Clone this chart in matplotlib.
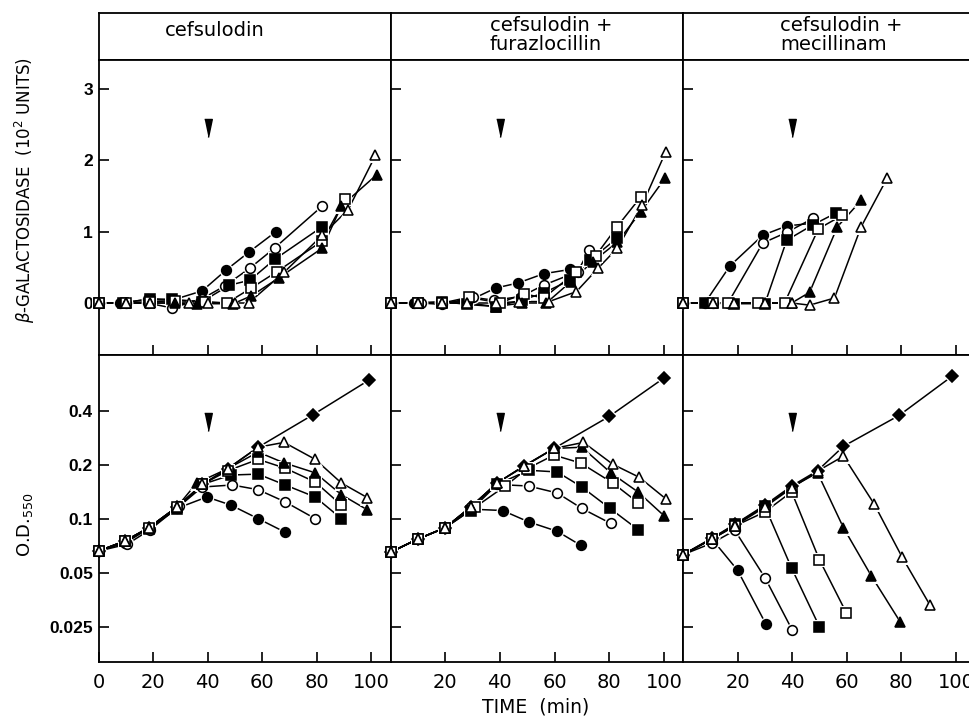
import matplotlib
matplotlib.use("Agg")
import matplotlib.pyplot as plt
from matplotlib.ticker import NullLocator

# ------------------------------------------------------------------
# data: time (min) and value per symbol
# ------------------------------------------------------------------
panel_titles = ["cefsulodin", "cefsulodin +\nfurazlocillin", "cefsulodin +\nmecillinam"]

time_ticks = [20, 40, 60, 80, 100]
gal_ticks = [0, 1, 2, 3]
od_ticks = [0.025, 0.05, 0.1, 0.2, 0.4]
od_tick_labels = ["0.025", "0.05", "0.1", "0.2", "0.4"]
arrow_time = 40

# beta-galactosidase (10^2 units), cefsulodin alone
gal_cef = {
    'fcircle': ([0, 8, 18, 27, 38, 46.7, 55, 65],
                [0, 0, 0.05, 0.04, 0.17, 0.46, 0.71, 1.0]),
    'ocircle': ([0, 10, 18, 27, 38, 46.3, 55.5, 64.5, 82],
                [0, 0, 0, -0.07, 0.06, 0.24, 0.49, 0.77, 1.36]),
    'fsquare': ([0, 9, 19, 27, 38, 48, 55.5, 64.5, 82],
                [0, 0, 0.06, 0.05, 0.02, 0.25, 0.32, 0.61, 1.07]),
    'osquare': ([0, 10, 19, 28, 39, 47, 56, 65.4, 82, 90.4],
                [0, 0, 0.02, 0.03, 0.02, 0.0, 0.21, 0.44, 0.87, 1.46]),
    'ftri': ([0, 10, 19, 28, 36, 49.4, 56, 66, 82, 89, 102],
             [0, 0, 0, 0, -0.01, -0.01, 0.1, 0.35, 0.77, 1.36, 1.8]),
    'otri': ([0, 10, 19, 33, 40, 50, 55, 68, 82, 91.5, 101.5],
             [0, 0, 0, 0, 0, 0, 0, 0.43, 0.95, 1.31, 2.07]),
}

# O.D.550, cefsulodin alone
od_cef = {
    'diamond': ([0, 9.6, 18.4, 28.7, 38, 47.4, 58.5, 78.7, 99],
                [0.066, 0.075, 0.089, 0.116, 0.155, 0.19, 0.25, 0.38, 0.59]),
    'fcircle': ([0, 9.6, 18.4, 28.7, 39.7, 48.5, 58.5, 68.4],
                [0.066, 0.073, 0.088, 0.114, 0.132, 0.119, 0.100, 0.084]),
    'ocircle': ([0, 10.5, 19, 29.5, 38, 49, 58.5, 68.4, 79.4],
                [0.066, 0.072, 0.087, 0.117, 0.150, 0.154, 0.145, 0.124, 0.100]),
    'fsquare': ([0, 9.6, 18.4, 28.7, 38, 48.5, 58.5, 68.4, 79.4, 89],
                [0.066, 0.075, 0.088, 0.113, 0.155, 0.175, 0.177, 0.154, 0.132, 0.100]),
    'osquare': ([0, 9.6, 18.4, 28.7, 38, 47.4, 58.5, 68.4, 79.4, 89],
                [0.066, 0.075, 0.089, 0.116, 0.155, 0.185, 0.214, 0.191, 0.160, 0.119]),
    'ftri': ([0, 9.6, 18.4, 28.7, 36, 47.4, 58.5, 67.8, 79.4, 89, 98.5],
             [0.066, 0.075, 0.089, 0.116, 0.158, 0.19, 0.235, 0.205, 0.18, 0.136, 0.112]),
    'otri': ([0, 9.6, 18.4, 28.7, 38, 47.4, 58.5, 68, 79.4, 89, 98.5],
             [0.066, 0.075, 0.089, 0.116, 0.155, 0.19, 0.25, 0.266, 0.214, 0.158, 0.131]),
}

# beta-galactosidase, cefsulodin + furazlocillin
gal_furaz = {
    'fcircle': ([0, 8.5, 18.3, 28, 38.5, 46.6, 56, 65.6],
                [0, 0, 0.01, 0.02, 0.21, 0.28, 0.41, 0.47]),
    'ocircle': ([0, 11, 19, 30, 37.7, 47.7, 56, 68.5, 72.6],
                [0, 0, -0.02, 0.08, 0.04, 0.09, 0.25, 0.44, 0.74]),
    'fsquare': ([0, 10, 19, 28, 38.5, 48, 56, 65.6, 73, 82.9],
                [0, 0, 0.02, -0.02, -0.05, 0.04, 0.14, 0.32, 0.6, 0.91]),
    'osquare': ([0, 10, 19, 28.6, 40, 48.8, 56, 68, 75, 82.9, 91.6],
                [0, 0, 0, 0.08, 0.0, 0.13, 0.07, 0.44, 0.66, 1.07, 1.49]),
    'ftri': ([0, 10, 19, 28, 38.5, 48, 57, 66, 74, 82.9, 91.6, 100.4],
             [0, 0, 0, 0, -0.05, 0.0, 0.0, 0.3, 0.58, 0.85, 1.28, 1.75]),
    'otri': ([0, 10, 19, 28, 38.5, 47, 58, 68, 76, 83, 92, 100.7],
             [0, 0, 0, 0, 0, 0.02, 0.02, 0.16, 0.49, 0.77, 1.37, 2.12]),
}

# O.D.550, cefsulodin + furazlocillin
od_furaz = {
    'diamond': ([0, 10, 20, 29.3, 39, 49, 59.8, 80, 100],
                [0.065, 0.077, 0.089, 0.116, 0.158, 0.196, 0.246, 0.371, 0.607]),
    'fcircle': ([0, 10, 20, 29.3, 41, 50.5, 61, 69.6],
                [0.065, 0.077, 0.089, 0.113, 0.111, 0.096, 0.085, 0.071]),
    'ocircle': ([0, 10, 20, 29.3, 39, 50.5, 61, 70, 80.6],
                [0.065, 0.077, 0.089, 0.116, 0.155, 0.152, 0.139, 0.114, 0.094]),
    'fsquare': ([0, 10, 20, 29.3, 39, 50.5, 61, 70, 80.3, 90.5],
                [0.065, 0.077, 0.089, 0.111, 0.155, 0.186, 0.182, 0.150, 0.114, 0.087]),
    'osquare': ([0, 10, 20, 31, 42, 50, 59.8, 69.6, 81.3, 90.5],
                [0.065, 0.077, 0.089, 0.116, 0.152, 0.19, 0.226, 0.204, 0.158, 0.123]),
    'ftri': ([0, 10, 20, 29.3, 39, 48.7, 59.8, 70, 80.6, 90.5, 100],
             [0.065, 0.077, 0.089, 0.116, 0.158, 0.196, 0.246, 0.25, 0.18, 0.141, 0.104]),
    'otri': ([0, 10, 20, 29.3, 39, 48.7, 59.8, 70.6, 81.3, 91, 100.7],
             [0.065, 0.077, 0.089, 0.116, 0.158, 0.196, 0.246, 0.266, 0.201, 0.170, 0.129]),
}

# beta-galactosidase, cefsulodin + mecillinam
gal_mec = {
    'fcircle': ([0, 8, 17.2, 29.2, 38, 47.8],
                [0, 0, 0.52, 0.95, 1.08, 1.12]),
    'ocircle': ([0, 10.9, 16.5, 29.2, 38, 47.8],
                [0, 0, 0, 0.84, 0.99, 1.19]),
    'fsquare': ([0, 8, 18.6, 30, 38, 47.8, 56],
                [0, 0, -0.01, -0.01, 0.88, 1.1, 1.26]),
    'osquare': ([0, 10.9, 16.5, 27.4, 37.2, 49.6, 58.4],
                [0, 0, 0, 0, 0, 1.04, 1.23]),
    'ftri': ([0, 10.9, 18.6, 30, 39.8, 46.4, 56.6, 65.3],
             [0, 0, 0, 0, 0, 0.15, 1.07, 1.44]),
    'otri': ([0, 10.9, 18.6, 30, 39.8, 46.4, 55.5, 65.3, 74.8],
             [0, 0, 0, 0, 0, -0.03, 0.07, 1.07, 1.75]),
}

# O.D.550, cefsulodin + mecillinam
od_mec = {
    'diamond': ([0, 10.6, 19, 30, 39.8, 49.3, 58.8, 79.2, 98.5],
                [0.063, 0.078, 0.093, 0.119, 0.152, 0.185, 0.253, 0.376, 0.62]),
    'fcircle': ([0, 10.6, 20, 30.3],
                [0.063, 0.077, 0.0516, 0.026]),
    'ocircle': ([0, 10.6, 19, 30, 40],
                [0.063, 0.073, 0.086, 0.047, 0.024]),
    'fsquare': ([0, 10.6, 19, 30, 39.8, 50],
                [0.063, 0.077, 0.093, 0.117, 0.053, 0.025]),
    'osquare': ([0, 10.6, 19, 30, 39.8, 50, 59.8],
                [0.063, 0.077, 0.091, 0.109, 0.141, 0.059, 0.030]),
    'ftri': ([0, 10.6, 19, 30, 39.8, 49.3, 58.8, 69, 79.6],
             [0.063, 0.077, 0.092, 0.117, 0.150, 0.180, 0.089, 0.048, 0.0266]),
    'otri': ([0, 10.6, 19, 30, 39.8, 49.3, 58.8, 70, 80.3, 90.5],
             [0.063, 0.077, 0.091, 0.116, 0.148, 0.184, 0.223, 0.121, 0.061, 0.033]),
}

gal_panels = [gal_cef, gal_furaz, gal_mec]
od_panels = [od_cef, od_furaz, od_mec]

# marker, filled, size
STYLE = {
    'diamond': ('D', True, 6.2),
    'fcircle': ('o', True, 7.0),
    'ocircle': ('o', False, 7.0),
    'fsquare': ('s', True, 6.5),
    'osquare': ('s', False, 6.5),
    'ftri': ('^', True, 7.8),
    'otri': ('^', False, 7.8),
}

FONT = 'DejaVu Sans'
ARROW = [(-0.42, 1), (0.42, 1), (0, -1)]

# ------------------------------------------------------------------
# layout (pixel boxes of the original)
# ------------------------------------------------------------------
W, H = 969, 719
fig = plt.figure(figsize=(W / 100, H / 100), dpi=100)


def box(x0, y0, x1, y1):
    return [x0 / W, 1 - y1 / H, (x1 - x0) / W, (y1 - y0) / H]


cols = [(98.5, 390.5), (390.5, 683), (683, 975)]
HEAD = (13, 60)
TOP = (60, 355)
BOT = (355, 662)
XMAX = 107


def draw_series(ax, series):
    for key, (t, v) in series.items():
        m, filled, ms = STYLE[key]
        ax.plot(t, v, color='k', lw=1.1, zorder=2)
        # white halo so the joining lines stop short of each symbol
        ax.plot(t, v, ls='none', marker=m, ms=ms + 3.0, mfc='white', mec='white',
                mew=0, zorder=3, clip_on=False)
        ax.plot(t, v, ls='none', marker=m, ms=ms, mfc='k' if filled else 'white',
                mec='k', mew=1.15, zorder=4, clip_on=False)


def frame(ax):
    for sp in ax.spines.values():
        sp.set_linewidth(1.3)
        sp.set_zorder(3.5)
    ax.tick_params(direction='in', length=7, width=1.2, top=False, right=False)


for i, (x0, x1) in enumerate(cols):
    # header cell
    hd = fig.add_axes(box(x0, HEAD[0], x1, HEAD[1]))
    hd.set_xticks([])
    hd.set_yticks([])
    for sp in hd.spines.values():
        sp.set_linewidth(1.3)

    # beta-galactosidase
    at = fig.add_axes(box(x0, TOP[0], x1, TOP[1]))
    at.set_xlim(0, XMAX)
    at.set_ylim(-0.729, 3.407)
    frame(at)
    at.set_xticks(time_ticks)
    at.set_xticklabels([])
    at.set_yticks(gal_ticks)
    draw_series(at, gal_panels[i])
    at.plot([arrow_time], [2.455], ls='none', marker=ARROW, ms=13, color='k', zorder=5)

    # optical density
    ab = fig.add_axes(box(x0, BOT[0], x1, BOT[1]))
    ab.set_yscale('log')
    ab.set_xlim(0, XMAX)
    ab.set_ylim(0.0159, 0.816)
    frame(ab)
    ab.set_yticks(od_ticks)
    ab.yaxis.set_minor_locator(NullLocator())
    draw_series(ab, od_panels[i])
    ab.plot([arrow_time], [0.346], ls='none', marker=ARROW, ms=13, color='k', zorder=5)

    if i == 0:
        at.set_yticklabels([str(v) for v in gal_ticks], fontweight='bold',
                           fontsize=12.5, family='Liberation Sans')
        ab.set_yticklabels(od_tick_labels, fontweight='bold', fontsize=12.5,
                           family='Liberation Sans')
        ab.set_xticks([0] + time_ticks)
        ab.set_xticklabels([str(v) for v in [0] + time_ticks], fontsize=14, family=FONT)
    else:
        at.set_yticklabels([])
        ab.set_yticklabels([])
        ab.set_xticks(time_ticks)
        ab.set_xticklabels([str(v) for v in time_ticks], fontsize=14, family=FONT)
    at.tick_params(axis='y', pad=4)
    ab.tick_params(axis='y', pad=4)
    ab.tick_params(axis='x', pad=8)

# header texts
fig.text(165 / W, 1 - 31 / H, panel_titles[0], fontsize=14, family=FONT, va='center')
fig.text(490 / W, 1 - 35 / H, panel_titles[1], fontsize=14, family=FONT, va='center',
         linespacing=1.0)
fig.text(780 / W, 1 - 35 / H, panel_titles[2], fontsize=14, family=FONT, va='center',
         linespacing=1.0)

# axis labels
fig.text(25 / W, 1 - 190 / H, r"$\beta$-GALACTOSIDASE  (10$^2$ UNITS)", rotation=90,
         fontsize=12, family=FONT, ha='center', va='center')
fig.text(25 / W, 1 - 525 / H, r"O.D.$_{550}$", rotation=90,
         fontsize=13, family=FONT, ha='center', va='center')
fig.text(536 / W, 1 - 707 / H, "TIME  (min)", fontsize=13.5, family=FONT,
         ha='center', va='center')

fig.savefig("out.png", dpi=100)
